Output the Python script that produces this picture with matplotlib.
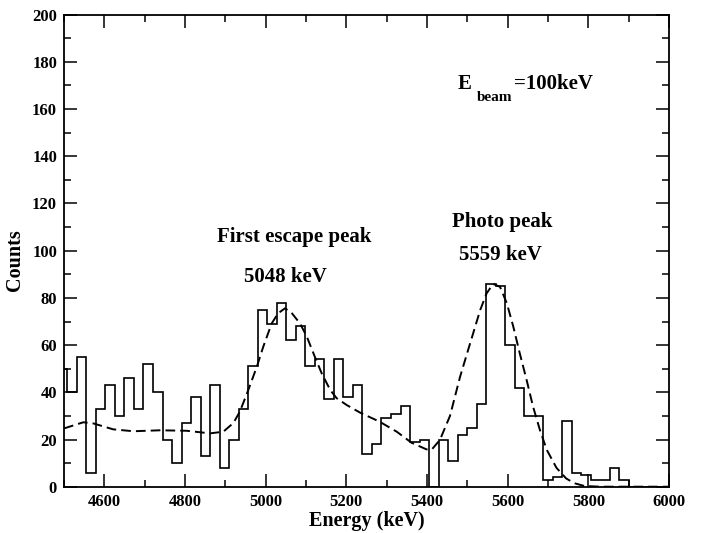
import numpy as np
import matplotlib
matplotlib.use('Agg')
import matplotlib.pyplot as plt
from matplotlib.ticker import MultipleLocator

# Histogram: counts per bin (bins of ~23.6 keV, first bin cut by the axis)
first_edge = 4484.7
bin_width = 23.6
counts = [50, 40, 55, 6, 33, 43, 30, 46, 33, 52,
          40, 20, 10, 27, 38, 13, 43, 8, 20, 33,
          51, 75, 69, 78, 62, 68, 51, 54, 37, 54,
          38, 43, 14, 18, 29, 31, 34, 19, 20, 0,
          20, 11, 22, 25, 35, 86, 85, 60, 42, 30,
          30, 3, 4, 28, 6, 5, 3, 3, 8, 3,
          0, 0, 0, 0, 0]

# Fit curve (dashed)
fit_energy = [4500, 4548, 4573, 4622, 4672, 4738, 4804, 4862, 4895, 4920,
              4936, 4957, 4978, 4994, 5015, 5031, 5048, 5065, 5085, 5102,
              5122, 5139, 5160, 5176, 5201, 5234, 5283, 5325, 5362, 5399,
              5412, 5432, 5457, 5482, 5507, 5532, 5548, 5564, 5581, 5598,
              5614, 5630, 5647, 5663, 5680, 5697, 5721, 5745, 5765, 5790,
              5830, 6000]
fit_counts = [24.7, 27.3, 26.8, 24.3, 23.5, 23.9, 23.7, 22.6, 23.3, 27.0,
              31.8, 41.0, 50.8, 59.3, 69.2, 73.5, 75.6, 73.5, 69.2, 63.6,
              55.0, 48.0, 41.0, 37.5, 34.6, 31.4, 27.5, 23.3, 18.6, 15.8,
              15.8, 19.8, 30.0, 46.6, 60.8, 74.9, 82.0, 85.9, 84.7, 77.7,
              67.8, 56.5, 45.2, 33.9, 24.0, 15.6, 8.0, 3.5, 1.5, 0.3,
              0.0, 0.0]

x_ticks = [4600, 4800, 5000, 5200, 5400, 5600, 5800, 6000]
y_ticks = list(range(0, 201, 20))

plt.rcParams['font.family'] = ['Liberation Serif', 'DejaVu Serif']
plt.rcParams['font.weight'] = 'bold'

fig = plt.figure(figsize=(7.02, 5.33), dpi=100)
ax = fig.add_axes([64 / 702, 1 - 486.7 / 533, 605 / 702, 472 / 533])

edges = first_edge + bin_width * np.arange(len(counts) + 1)
ax.stairs(counts, edges, color='black', linewidth=1.2, baseline=None)
ax.plot(fit_energy, fit_counts, color='black', linewidth=1.4,
        dashes=(5.0, 2.6))

ax.set_xlim(4500, 6000)
ax.set_ylim(0, 200)
ax.set_xticks(x_ticks)
ax.set_yticks(y_ticks)
ax.xaxis.set_minor_locator(MultipleLocator(100))
ax.yaxis.set_minor_locator(MultipleLocator(10))
ax.tick_params(which='both', direction='in', top=True, right=True,
               width=1.1, labelsize=12)
ax.tick_params(which='major', length=9.5, pad=5)
ax.tick_params(which='minor', length=4.8)
for sp in ax.spines.values():
    sp.set_linewidth(1.3)

ax.set_xlabel('Energy (keV)', fontsize=14.5, fontweight='bold')
ax.set_ylabel('Counts', fontsize=14.5, fontweight='bold')
ax.xaxis.set_label_coords(0.5, -0.052)
ax.yaxis.set_label_coords(-0.064, 0.48)

ax.text(5070, 105.6, 'First escape peak', fontsize=15, ha='center', va='center')
ax.text(5048, 88.9, '5048 keV', fontsize=15, ha='center', va='center')
ax.text(5586, 112, 'Photo peak', fontsize=15, ha='center', va='center')
ax.text(5581, 98.2, '5559 keV', fontsize=15, ha='center', va='center')

ax.text(5477, 170.6, 'E', fontsize=15, ha='left', va='center')
ax.text(5524, 165.0, 'beam', fontsize=11, ha='left', va='center')
ax.text(5615, 170.6, '=100keV', fontsize=15, ha='left', va='center')

fig.savefig('out.png', dpi=100)
